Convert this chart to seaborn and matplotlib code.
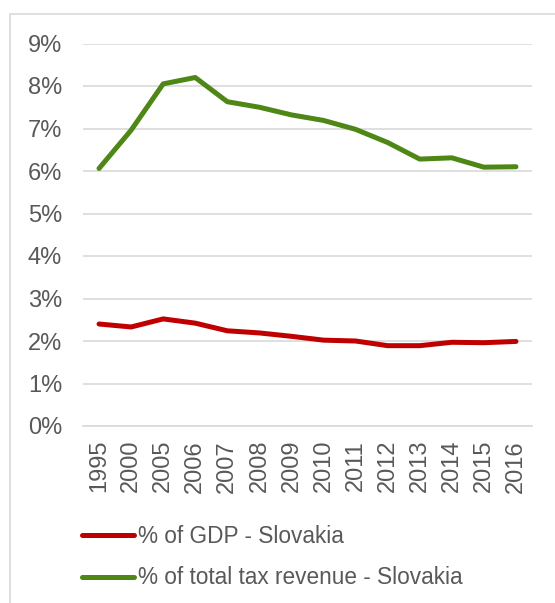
import numpy as np
import pandas as pd
import matplotlib
matplotlib.use("Agg")
import matplotlib.pyplot as plt
import seaborn as sns
from matplotlib.patches import Rectangle
from matplotlib.ticker import FuncFormatter, FixedLocator

years = ["1995", "2000", "2005", "2006", "2007", "2008", "2009",
         "2010", "2011", "2012", "2013", "2014", "2015", "2016"]
gdp_share = [2.40, 2.33, 2.52, 2.42, 2.24, 2.19, 2.11,
             2.02, 2.00, 1.89, 1.89, 1.97, 1.96, 1.99]
tax_share = [6.06, 6.96, 8.05, 8.20, 7.63, 7.50, 7.32,
             7.19, 6.98, 6.67, 6.28, 6.31, 6.09, 6.10]
series_names = ["% of GDP - Slovakia", "% of total tax revenue - Slovakia"]
colores = ["#C00000", "#4E8716"]

# datos en formato largo para seaborn
df = pd.DataFrame({
    "idx": list(range(len(years))) * 2,
    "valor": [v / 100 for v in gdp_share] + [v / 100 for v in tax_share],
    "serie": [series_names[0]] * len(years) + [series_names[1]] * len(years),
})

sns.set_style("white")
plt.rcParams["font.family"] = ["Liberation Sans", "DejaVu Sans"]

fig = plt.figure(figsize=(5.55, 6.03), dpi=100)
ax = fig.add_axes([83 / 555, 1 - 426 / 603, (532 - 83) / 555, (426 - 43.5) / 603])

sns.lineplot(data=df, x="idx", y="valor", hue="serie", palette=colores,
             linewidth=3.6, ax=ax, legend=False)
for ln in ax.lines:
    ln.set_solid_capstyle("round")
    ln.set_solid_joinstyle("round")

ax.set_xlim(-0.5, len(years) - 0.5)
ax.set_ylim(0, 0.09)
ax.set_yticks(np.arange(0, 0.091, 0.01))
ax.yaxis.set_major_formatter(FuncFormatter(lambda v, p: f"{v * 100:.0f}%"))
ax.set_xticks(range(len(years)))
ax.set_xticklabels(years, rotation=90)
ax.xaxis.set_minor_locator(FixedLocator(np.arange(-0.5, len(years), 1)))
ax.tick_params(axis="x", which="major", length=0, pad=10, labelsize=17, labelcolor="#595959")
ax.tick_params(axis="x", which="minor", length=5, width=1, color="#D9D9D9")
ax.tick_params(axis="y", length=0, pad=15, labelsize=17, labelcolor="#595959")
ax.set_xlabel("")
ax.set_ylabel("")

ax.grid(axis="y", color="#D9D9D9", linewidth=1.2)
ax.set_axisbelow(True)
for lado in ["top", "right", "left"]:
    ax.spines[lado].set_visible(False)
ax.spines["bottom"].set_color("#D9D9D9")
ax.spines["bottom"].set_linewidth(1.2)

# leyenda debajo
handles = [plt.Line2D([], [], color=c, linewidth=3.6, solid_capstyle="round") for c in colores]
fig.legend(handles, series_names, loc="upper left", bbox_to_anchor=(62 / 555, 1 - 505 / 603),
           frameon=False, fontsize=16.3, labelcolor="#595959", handlelength=2.3,
           handletextpad=0.15, labelspacing=0.8)

# marco del grafico (recortado a la derecha y abajo)
fig.patches.append(Rectangle((10 / 555, -0.05), 1.1, 1 - 14 / 603 + 0.05,
                             transform=fig.transFigure, fill=False,
                             edgecolor="#D9D9D9", linewidth=1.2))

fig.savefig("out.png", dpi=100)
